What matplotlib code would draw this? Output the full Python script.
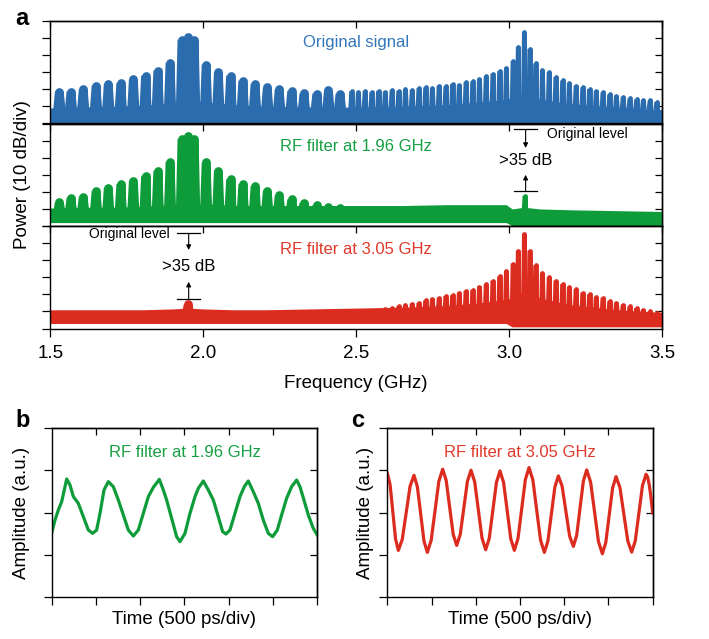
# RF spectra (a) and filtered waveforms (b, c)

import numpy as np
import matplotlib
matplotlib.use('Agg')
import matplotlib.pyplot as plt
from matplotlib.collections import PolyCollection

plt.rcParams['font.family'] = ['Liberation Sans', 'DejaVu Sans']
plt.rcParams['axes.linewidth'] = 1.0

# ---- panel a: comb teeth (GHz) and their peak levels (dB) ----
f_blue = [1.529, 1.567, 1.607, 1.649, 1.689, 1.730, 1.771, 1.811, 1.851, 1.891,
          1.930, 1.950, 1.970, 2.009, 2.049, 2.089, 2.129, 2.169, 2.209, 2.248,
          2.289, 2.329, 2.371, 2.409, 2.447,
          2.485, 2.507, 2.529, 2.551, 2.573, 2.595, 2.617, 2.639, 2.661, 2.683,
          2.705, 2.727, 2.749, 2.771, 2.793, 2.815, 2.837, 2.859, 2.881, 2.903,
          2.925, 2.947, 2.969, 2.991, 3.013, 3.030, 3.050, 3.068, 3.087, 3.109,
          3.131, 3.153, 3.175, 3.197, 3.219, 3.241, 3.263, 3.285, 3.307, 3.329,
          3.351, 3.373, 3.395, 3.417, 3.439, 3.461, 3.483]
top_blue = [21.2, 21.2, 22.6, 24.6, 25.6, 26.2, 28.3, 30.5, 33.5, 38.0,
            51.5, 53.0, 51.5, 37.0, 32.5, 30.5, 27.6, 25.6, 23.6, 22.6,
            21.6, 20.2, 20.0, 22.0, 20.0,
            20.2, 19.5, 20.5, 19.8, 20.5, 20.0, 21.0, 20.5, 21.5, 21.0,
            22.0, 22.5, 22.0, 23.5, 23.0, 24.5, 24.0, 25.5, 26.0, 27.5,
            29.0, 30.5, 32.0, 34.0, 38.0, 46.0, 54.7, 45.0, 36.5, 32.5,
            31.5, 28.5, 26.5, 25.0, 23.5, 22.5, 21.5, 20.5, 19.5, 18.5,
            17.5, 17.0, 16.0, 15.5, 15.0, 14.8, 14.0]

f_green = [1.529, 1.567, 1.607, 1.649, 1.689, 1.730, 1.771, 1.811, 1.851, 1.891,
           1.930, 1.950, 1.970, 2.009, 2.049, 2.089, 2.129, 2.169, 2.209, 2.248,
           2.289, 2.329, 2.371, 2.409, 2.447, 3.052]
top_green = [16.7, 19.2, 19.8, 23.1, 25.1, 27.1, 29.0, 32.0, 34.9, 40.2,
             53.5, 55.5, 53.5, 39.8, 34.9, 30.0, 27.1, 26.0, 23.1, 20.6,
             18.2, 16.3, 14.7, 13.9, 13.3, 19.2]

f_red = [1.950,
         2.595, 2.617, 2.639, 2.661, 2.683, 2.705, 2.727, 2.749, 2.771, 2.793,
         2.815, 2.837, 2.859, 2.881, 2.903, 2.925, 2.947, 2.969, 2.991, 3.013,
         3.030, 3.050, 3.068, 3.087, 3.109, 3.131, 3.153, 3.175, 3.197, 3.219,
         3.241, 3.263, 3.285, 3.307, 3.329, 3.351, 3.373, 3.395, 3.417, 3.439,
         3.461, 3.483]
top_red = [16.7,
           13.0, 13.5, 14.5, 15.0, 16.0, 16.5, 18.0, 19.0, 19.5, 20.5,
           21.0, 22.5, 23.5, 24.0, 26.0, 27.5, 29.5, 32.0, 35.0, 39.5,
           47.0, 56.7, 47.0, 38.5, 34.0, 31.5, 29.5, 27.5, 25.5, 24.5,
           22.5, 21.5, 20.0, 19.5, 17.5, 16.5, 15.5, 14.5, 13.5, 12.5,
           11.5, 10.5]

# noise floor band (lower and upper edge, dB)
noise_f = [1.50, 1.60, 1.70, 1.80, 1.90, 1.95, 2.00, 2.10, 2.20, 2.35, 2.50,
           2.65, 2.80, 2.90, 2.99, 3.01, 3.05, 3.10, 3.20, 3.35, 3.50]
base_blue = [9.0, 9.5, 10.0, 10.5, 12.0, 14.0, 12.5, 11.0, 10.0, 9.5, 9.5,
             10.0, 11.0, 12.5, 14.0, 15.0, 18.0, 14.0, 11.5, 9.5, 8.0]
low_blue = [0] * 21
base_green = [10.5, 11.0, 11.0, 11.5, 12.5, 14.0, 13.0, 12.0, 12.0, 12.0, 12.0,
              12.0, 12.5, 12.5, 12.5, 10.0, 11.0, 10.0, 9.5, 9.0, 8.5]
low_green = [2.0, 2.0, 2.0, 2.0, 2.0, 2.0, 2.0, 2.0, 2.0, 2.0, 2.0,
             2.0, 2.0, 2.0, 2.0, 0.3, 0.3, 0.3, 0.3, 0.3, 0.3]
base_red = [11.0, 11.0, 11.0, 11.0, 11.5, 12.0, 11.5, 11.0, 11.0, 11.5, 12.0,
            12.5, 13.5, 15.0, 17.0, 18.0, 22.0, 18.0, 14.0, 11.0, 9.5]
low_red = [3.0, 3.0, 3.0, 3.0, 3.0, 3.0, 3.0, 3.0, 3.0, 3.0, 3.0,
           3.0, 3.0, 3.0, 3.0, 1.0, 1.0, 1.0, 1.0, 1.0, 1.0]

# ---- panel b / c: time traces (ps, div) ----
t_b = [0, 37.6, 75.3, 112.9, 150.6, 169.4, 207.0, 244.7, 301.1, 357.6,
       414.0, 463.0, 508.0, 545.8, 591.0, 640.0, 696.0, 752.8, 809.3, 865.7,
       922.2, 978.7, 1035.0, 1091.6, 1148.0, 1215.8, 1261.0, 1298.6, 1355.0, 1411.5,
       1449.2, 1505.6, 1562.0, 1618.6, 1656.2, 1712.7, 1769.0, 1825.6, 1882.0, 1931.0,
       1968.6, 2013.8, 2070.3, 2126.7, 2175.7, 2220.8, 2277.3, 2333.7, 2390.2, 2446.7,
       2495.6, 2548.3, 2597.2, 2653.7, 2710.2, 2766.6, 2804.3, 2849.5, 2898.4, 2954.8,
       3000.0]
y_b = [-0.495, -0.178, 0.059, 0.257, 0.614, 0.796, 0.653, 0.376, 0.218, -0.099,
       -0.416, -0.495, -0.416, -0.020, 0.535, 0.733, 0.614, 0.297, -0.059, -0.416,
       -0.558, -0.416, -0.020, 0.376, 0.598, 0.788, 0.535, 0.297, -0.139, -0.574,
       -0.693, -0.495, -0.020, 0.376, 0.574, 0.749, 0.535, 0.297, -0.099, -0.455,
       -0.511, -0.416, -0.020, 0.376, 0.614, 0.749, 0.495, 0.218, -0.178, -0.495,
       -0.574, -0.416, -0.059, 0.337, 0.614, 0.772, 0.614, 0.297, -0.059, -0.376,
       -0.535]

t_c = [0, 31.1, 62.2, 93.3, 124.4, 168.7, 213.0, 257.2, 301.5, 339.2,
       376.9, 414.6, 452.3, 495.7, 539.0, 582.4, 625.7, 665.3, 704.9, 744.4,
       784.0, 824.5, 865.0, 905.5, 946.0, 987.5, 1029.0, 1070.4, 1111.9, 1152.4,
       1192.9, 1233.4, 1273.9, 1314.4, 1355.0, 1395.5, 1436.0, 1477.5, 1518.9, 1560.4,
       1601.8, 1645.2, 1688.5, 1731.9, 1775.2, 1814.8, 1854.4, 1893.9, 1933.5, 1975.9,
       2018.3, 2060.7, 2103.1, 2140.8, 2178.5, 2216.2, 2253.9, 2298.2, 2342.5, 2386.7,
       2431.0, 2469.6, 2508.3, 2546.9, 2585.5, 2629.8, 2674.1, 2718.4, 2762.7, 2803.2,
       2843.7, 2884.2, 2924.7, 2943.5, 2962.0, 2981.0, 3000.0]
y_c = [0.932, 0.665, 0.016, -0.633, -0.900, -0.640, -0.008, 0.624, 0.884, 0.617,
       -0.032, -0.681, -0.948, -0.660, 0.040, 0.740, 1.028, 0.764, 0.123, -0.517,
       -0.781, -0.520, 0.112, 0.743, 1.004, 0.728, 0.060, -0.608, -0.884, -0.611,
       0.052, 0.715, 0.988, 0.712, 0.044, -0.624, -0.900, -0.613, 0.084, 0.781,
       1.068, 0.774, 0.060, -0.654, -0.948, -0.683, -0.039, 0.604, 0.869, 0.625,
       0.032, -0.561, -0.805, -0.540, 0.104, 0.747, 1.012, 0.721, 0.016, -0.689,
       -0.980, -0.712, -0.063, 0.585, 0.853, 0.591, -0.044, -0.678, -0.940, -0.670,
       -0.016, 0.638, 0.908, 0.839, 0.642, 0.347, -0.008]

blue = '#2a6cae'
green = '#0e9c3a'
red = '#dc2b1f'

fig = plt.figure(figsize=(7.09, 6.39), dpi=100)

A_LEFT, A_W, A_H = 0.0712, 0.8625, 0.1604
px_per_ghz = A_W * 709 / 2.0
px_per_db = A_H * 639 / 60


def spec_axes(bottom):
    ax = fig.add_axes([A_LEFT, bottom, A_W, A_H])
    ax.set_xlim(1.5, 3.5)
    ax.set_ylim(0, 60)
    ax.set_yticks(range(0, 61, 10))
    ax.tick_params(axis='y', direction='out', length=5.5, width=0.9, labelleft=False)
    ax.tick_params(axis='x', bottom=False, labelbottom=False)
    r = ax.secondary_yaxis('right')
    r.set_yticks([10, 20, 30, 40, 50])
    r.tick_params(direction='in', length=5, width=0.9, labelright=False)
    t = ax.secondary_xaxis('top')
    t.set_xticks([1.5, 2.0, 2.5, 3.0, 3.5])
    t.tick_params(direction='in', length=4.8, width=0.9, labeltop=False)
    return ax


def draw_spectrum(ax, f, top, low, base, color):
    f = np.asarray(f)
    top = np.asarray(top)
    # tooth width follows the comb pitch of each half of the band
    pitch = np.where(f < 2.47, 0.040, 0.022)
    w = 0.72 * pitch
    r_db = w * px_per_ghz / 2 / px_per_db
    shoulder = top - r_db
    # arch shaped teeth: flared trapezoid + round-capped column
    verts = [[(fi - p / 2, 8), (fi - wi / 2, s), (fi + wi / 2, s), (fi + p / 2, 8)]
             for fi, p, wi, s in zip(f, pitch, w, shoulder)]
    ax.add_collection(PolyCollection(verts, facecolors=color, edgecolors='none'))
    ax.vlines(f, 8, shoulder, colors=color, linewidths=w * px_per_ghz * 0.72,
              capstyle='round')
    ax.fill_between(noise_f, low, base, color=color, lw=0)


def level_marks(ax, fx, half, y_top, tip_top, y_low, tip_low, y_txt):
    ax.plot([fx - half, fx + half], [y_top, y_top], color='k', lw=0.9)
    ax.plot([fx - half, fx + half], [y_low, y_low], color='k', lw=0.9)
    arrow = dict(arrowstyle='-|>', color='k', lw=0.8, mutation_scale=7,
                 shrinkA=0, shrinkB=0)
    ax.annotate('', xy=(fx, tip_top), xytext=(fx, y_top), arrowprops=arrow)
    ax.annotate('', xy=(fx, tip_low), xytext=(fx, y_low), arrowprops=arrow)
    ax.text(fx, y_txt, '>35 dB', ha='center', va='center', fontsize=12)


ax1 = spec_axes(0.8070)
ax2 = spec_axes(0.6463)
ax3 = spec_axes(0.4858)

draw_spectrum(ax1, f_blue, top_blue, low_blue, base_blue, blue)
draw_spectrum(ax2, f_green, top_green, low_green, base_green, green)
draw_spectrum(ax3, f_red, top_red, low_red, base_red, red)

ax1.text(2.5, 47.4, 'Original signal', color='#3276ba', fontsize=12,
         ha='center', va='center')
ax2.text(2.5, 46.6, 'RF filter at 1.96 GHz', color='#17a043', fontsize=12,
         ha='center', va='center')
ax3.text(2.5, 46.0, 'RF filter at 3.05 GHz', color='#e0392b', fontsize=12,
         ha='center', va='center')

level_marks(ax2, 3.054, 0.037, 56.5, 45.7, 20.6, 30.0, 38.4)
ax2.text(3.124, 54.1, 'Original level', fontsize=10, ha='left', va='center')
level_marks(ax3, 1.952, 0.037, 55.7, 46.0, 17.3, 27.4, 36.6)
ax3.text(1.889, 55.1, 'Original level', fontsize=10, ha='right', va='center')

ax3.tick_params(axis='x', bottom=True, labelbottom=True, direction='out',
                length=5.5, width=0.9, labelsize=13.5, pad=6)
ax3.set_xticks([1.5, 2.0, 2.5, 3.0, 3.5])
ax3.set_xticklabels(['1.5', '2.0', '2.5', '3.0', '3.5'])
ax3.set_xlabel('Frequency (GHz)', fontsize=13.5, va='center')
ax3.xaxis.set_label_coords(0.5, -0.54)

fig.text(23 / 709, 1 - 175 / 639, 'Power (10 dB/div)', rotation=90,
         ha='center', va='center', fontsize=13.5)


def wave_axes(rect):
    ax = fig.add_axes(rect)
    ax.set_xlim(0, 3000)
    ax.set_ylim(-2, 2)
    ax.set_xticks(range(0, 3001, 500))
    ax.set_yticks([-2, -1, 0, 1, 2])
    ax.tick_params(direction='out', length=5.5, width=0.9,
                   labelbottom=False, labelleft=False)
    r = ax.secondary_yaxis('right')
    r.set_yticks([-1, 0, 1])
    r.tick_params(direction='in', length=5, width=0.9, labelright=False)
    t = ax.secondary_xaxis('top')
    t.set_xticks(range(500, 2501, 500))
    t.tick_params(direction='in', length=4.8, width=0.9, labeltop=False)
    ax.set_xlabel('Time (500 ps/div)', fontsize=13.5, va='center')
    ax.xaxis.set_label_coords(0.5, -0.138)
    return ax


axb = wave_axes([0.0729, 0.0662, 0.3746, 0.2635])
axb.plot(t_b, y_b, color=green, lw=2.3, solid_joinstyle='round')
axb.text(1500, 1.43, 'RF filter at 1.96 GHz', color='#17a043', fontsize=12,
         ha='center', va='center')
axb.set_ylabel('Amplitude (a.u.)', fontsize=13.5, va='center')
axb.yaxis.set_label_coords(-0.113, 0.5)

axc = wave_axes([0.5463, 0.0662, 0.3743, 0.2635])
axc.plot(t_c, y_c, color=red, lw=2.3, solid_joinstyle='round')
axc.text(1500, 1.42, 'RF filter at 3.05 GHz', color='#e0392b', fontsize=12,
         ha='center', va='center')
axc.set_ylabel('Amplitude (a.u.)', fontsize=13.5, va='center')
axc.yaxis.set_label_coords(-0.084, 0.5)

fig.text(15 / 709, 1 - 25 / 639, 'a', fontsize=17, fontweight='bold', va='baseline')
fig.text(15 / 709, 1 - 426.7 / 639, 'b', fontsize=17, fontweight='bold', va='baseline')
fig.text(351 / 709, 1 - 426.7 / 639, 'c', fontsize=17, fontweight='bold', va='baseline')

fig.savefig('out.png', dpi=100)
